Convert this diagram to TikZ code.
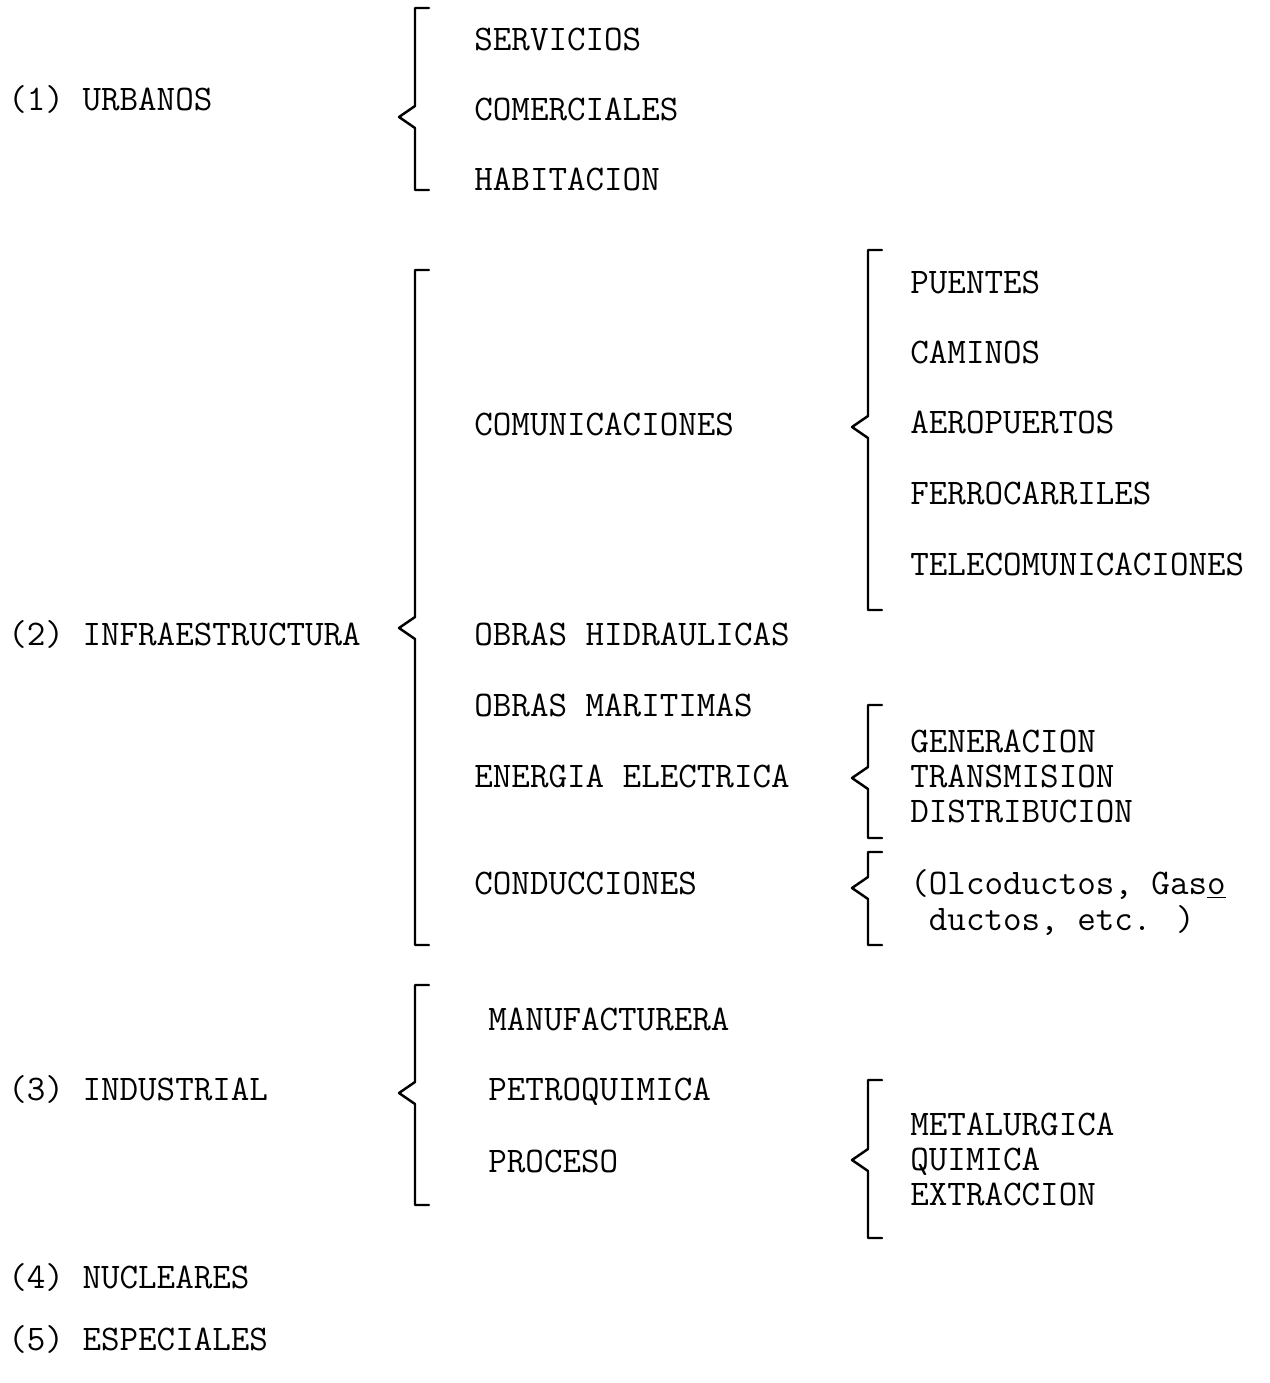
\documentclass[tikz,border=0pt]{standalone}
\usepackage{fontspec}
\usetikzlibrary{positioning}

\tikzset{
  rubro/.style={anchor=west,inner sep=0pt,text height=14pt,text depth=1.5pt,
    font=\ttfamily\fontsize{20.5}{22}\selectfont},
  llave/.style={line width=1.4pt,line join=round,line cap=round}
}
% llave: x, arriba, punta, abajo
\newcommand{\llave}[4]{\draw[llave] (#1+14,#2) -- (#1,#2) -- (#1,#3-11) -- (#1-16,#3) -- (#1,#3+11) -- (#1,#4) -- (#1+14,#4);}

\begin{document}
\begin{tikzpicture}[x=0.02cm,y=-0.02cm]
  \useasboundingbox (0,0) rectangle (1269,1383);
  % clases de obra
  \node[rubro] (urb) at (8,100) {(1) URBANOS};
  \node[rubro] (inf) at (8,635) {(2) INFRAESTRUCTURA};
  \node[rubro] (ind) at (8,1090) {(3) INDUSTRIAL};
  \node[rubro] (nuc) at (8,1278) {(4) NUCLEARES};
  \node[rubro] (esp) at (8,1340) {(5) ESPECIALES};
  % urbanos
  \llave{415}{8}{117}{190}
  \node[rubro] (serv) at (474,40) {SERVICIOS};
  \node[rubro] (com) at (474,110) {COMERCIALES};
  \node[rubro] (hab) at (474,180) {HABITACION};
  % infraestructura
  \llave{415}{270}{628}{945}
  \node[rubro] (comu) at (474,425) {COMUNICACIONES};
  \node[rubro] (hid) at (474,635) {OBRAS HIDRAULICAS};
  \node[rubro] (mar) at (474,706) {OBRAS MARITIMAS};
  \node[rubro] (ene) at (474,777) {ENERGIA ELECTRICA};
  \node[rubro] (cond) at (474,884) {CONDUCCIONES};
  % comunicaciones
  \llave{868}{250}{427}{610}
  \node[rubro] (pue) at (910,283) {PUENTES};
  \node[rubro] (cam) at (910,353) {CAMINOS};
  \node[rubro] (aer) at (910,423) {AEROPUERTOS};
  \node[rubro] (fer) at (910,494) {FERROCARRILES};
  \node[rubro] (tel) at (910,565) {TELECOMUNICACIONES};
  % energia electrica
  \llave{868}{705}{778}{838}
  \node[rubro] (gen) at (910,742) {GENERACION};
  \node[rubro] (tra) at (910,777) {TRANSMISION};
  \node[rubro] (dis) at (910,812) {DISTRIBUCION};
  % conducciones
  \llave{868}{852}{888}{945}
  \node[rubro] (olc) at (910,884) {(Olcoductos, Gas\underline{o}};
  \node[rubro] (duc) at (910,920) {\ ductos, etc. )};
  % industrial
  \llave{415}{985}{1093}{1205}
  \node[rubro] (man) at (488,1020) {MANUFACTURERA};
  \node[rubro] (pet) at (488,1090) {PETROQUIMICA};
  \node[rubro] (pro) at (488,1162) {PROCESO};
  % proceso
  \llave{868}{1080}{1160}{1238}
  \node[rubro] (met) at (910,1125) {METALURGICA};
  \node[rubro] (qui) at (910,1160) {QUIMICA};
  \node[rubro] (ext) at (910,1195) {EXTRACCION};
\end{tikzpicture}
\end{document}
